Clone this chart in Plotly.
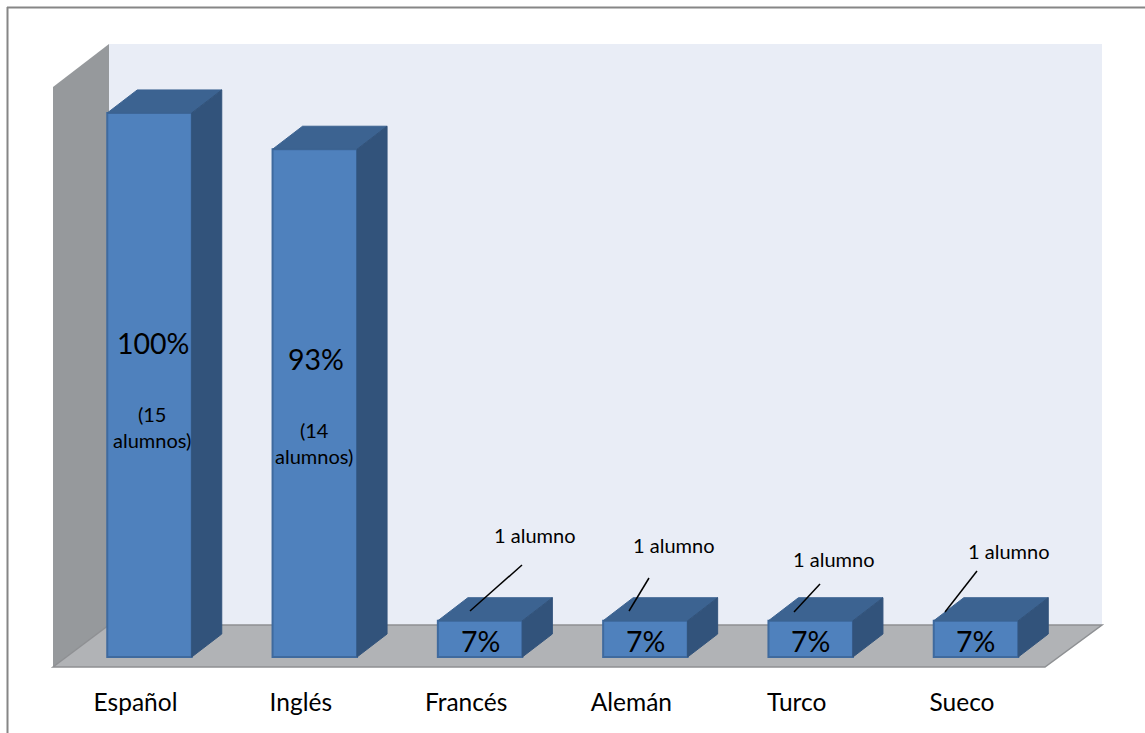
import plotly.graph_objects as go

# Data
categories = ["Español", "Inglés", "Francés", "Alemán", "Turco", "Sueco"]
alumnos = [15, 14, 1, 1, 1, 1]
percent_labels = ["100%", "93%", "7%", "7%", "7%", "7%"]
count_labels = ["(15<br>alumnos)", "(14<br>alumnos)", "1 alumno", "1 alumno", "1 alumno", "1 alumno"]

# Layout constants (pixels of the 1145x733 page)
W, H = 1145, 733
X0, XSTEP = 149.5, 165.3      # centre of first bar, bar spacing
Y0, YSTEP = 657.0, 36.27      # baseline, pixels per student
DX_PX, DY_PX = 30.0, 23.0     # depth of the bars
BAR_PX = 84.5
FONT = "Lato"


def ux(px):
    return (px - X0) / XSTEP


def uy(py):
    return (Y0 - py) / YSTEP


dx, dy, half = DX_PX / XSTEP, DY_PX / YSTEP, BAR_PX / XSTEP / 2

FRONT, FRONT_LINE = "#4F81BD", "#3F6A9E"
TOP, SIDE = "#3C6391", "#32537B"
BACK, WALL, FLOOR, EDGE = "#E9EDF6", "#96999C", "#B1B3B6", "#8E9093"

fig = go.Figure()


def poly(pts, fill, line=None, width=0):
    return dict(type="path", layer="below",
                path="M " + " L ".join(f"{ux(a)} {uy(b)}" for a, b in pts) + " Z",
                xref="x", yref="y", fillcolor=fill,
                line=dict(color=line or fill, width=width))


shapes = [
    poly([(109, 44), (1102, 44), (1102, 625), (109, 625)], BACK),
    poly([(53, 87), (109, 44), (109, 625), (53, 667)], WALL),
    poly([(53, 667), (109, 625), (1102, 625), (1045, 667)], FLOOR, EDGE, 1.5),
    dict(type="line", xref="paper", yref="paper", x0=7.5 / W, x1=7.5 / W, y0=0, y1=1 - 7 / H,
         line=dict(color="#868686", width=2)),
    dict(type="line", xref="paper", yref="paper", x0=7 / W, x1=1, y0=1 - 7.5 / H, y1=1 - 7.5 / H,
         line=dict(color="#868686", width=2)),
]

fig.add_trace(go.Bar(x=list(range(len(alumnos))), y=alumnos, width=BAR_PX / XSTEP,
                     marker=dict(color=FRONT, line=dict(color=FRONT_LINE, width=2)),
                     hoverinfo="skip", showlegend=False))

# 3D top and side faces derived from the same values
for i, v in enumerate(alumnos):
    l, r = i - half, i + half
    fig.add_trace(go.Scatter(x=[l, l + dx, r + dx, r, l], y=[v, v + dy, v + dy, v, v],
                             mode="lines", fill="toself", fillcolor=TOP,
                             line=dict(color=TOP, width=1), hoverinfo="skip", showlegend=False))
    fig.add_trace(go.Scatter(x=[r, r + dx, r + dx, r, r], y=[0, dy, v + dy, v, 0],
                             mode="lines", fill="toself", fillcolor=SIDE,
                             line=dict(color=SIDE, width=1), hoverinfo="skip", showlegend=False))

# Labels
pct_pos = [(153, 343), (315.5, 359), (480, 641), (645, 641), (810, 641), (975, 641)]
cnt_pos = [(152, 426.5), (314, 442.5), (534, 535), (673, 545), (833, 559), (1008, 551)]
leaders = [None, None, (522, 565, 470, 611), (649, 578, 629, 611),
           (820, 584, 794, 612), (977, 571, 945, 612)]

ann = []
for txt, (a, b) in zip(percent_labels, pct_pos):
    ann.append(dict(x=ux(a), y=uy(b), text=txt, showarrow=False,
                    font=dict(family=FONT, size=28.5, color="#000000")))
for txt, (a, b) in zip(count_labels, cnt_pos):
    ann.append(dict(x=ux(a), y=uy(b), text=txt, showarrow=False,
                    font=dict(family=FONT, size=20, color="#000000")))
for seg in leaders:
    if seg:
        shapes.append(dict(type="line", xref="x", yref="y", x0=ux(seg[0]), y0=uy(seg[1]),
                           x1=ux(seg[2]), y1=uy(seg[3]), line=dict(color="#000000", width=1.5)))

fig.update_layout(
    width=W, height=H, margin=dict(l=0, r=0, t=0, b=0),
    paper_bgcolor="#FFFFFF", plot_bgcolor="#FFFFFF", showlegend=False,
    shapes=shapes, annotations=ann,
    xaxis=dict(range=[ux(0), ux(W)], tickmode="array",
               tickvals=[i - 14 / XSTEP for i in range(len(categories))], ticktext=categories,
               anchor="free", position=1 - 685 / H, showgrid=False, zeroline=False, showline=False,
               ticks="", tickfont=dict(family=FONT, size=24.5, color="#000000")),
    yaxis=dict(range=[uy(H), uy(0)], visible=False, showgrid=False, zeroline=False),
)

fig.write_html("out.html", config=dict(displayModeBar=False),
               post_script="document.body.style.margin='0';document.documentElement.style.overflow='hidden';")
